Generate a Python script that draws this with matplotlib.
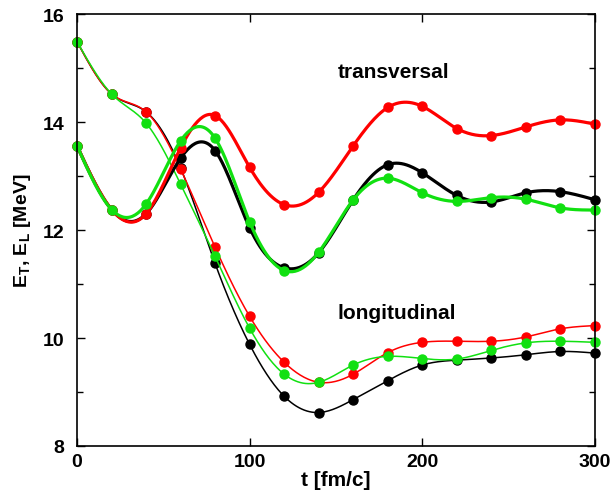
import matplotlib
matplotlib.use("Agg")
import matplotlib.pyplot as plt
import numpy as np
from matplotlib.ticker import MultipleLocator

plt.rcParams['font.family'] = ['Liberation Sans', 'DejaVu Sans']
plt.rcParams['font.weight'] = 'bold'
plt.rcParams['mathtext.fontset'] = 'custom'
plt.rcParams['mathtext.rm'] = 'Liberation Sans:bold'
plt.rcParams['mathtext.bf'] = 'Liberation Sans:bold'

# Data (time in fm/c, energies in MeV)
t = [0, 20, 40, 60, 80, 100, 120, 140, 160, 180, 200, 220, 240, 260, 280, 300]

trans_black = [13.56, 12.38, 12.30, 13.33, 13.47, 12.04, 11.30, 11.58, 12.56, 13.21, 13.06, 12.64, 12.52, 12.69, 12.71, 12.56]
trans_red = [13.56, 12.38, 12.30, 13.52, 14.12, 13.16, 12.47, 12.70, 13.56, 14.27, 14.29, 13.88, 13.75, 13.91, 14.04, 13.96]
trans_green = [13.56, 12.38, 12.48, 13.65, 13.70, 12.15, 11.25, 11.59, 12.56, 12.96, 12.69, 12.53, 12.60, 12.57, 12.41, 12.37]

long_black = [15.49, 14.52, 14.19, 13.15, 11.38, 9.88, 8.92, 8.62, 8.86, 9.21, 9.50, 9.59, 9.63, 9.69, 9.75, 9.72]
long_red = [15.49, 14.52, 14.19, 13.13, 11.68, 10.40, 9.55, 9.18, 9.33, 9.73, 9.92, 9.94, 9.94, 10.02, 10.17, 10.23]
long_green = [15.49, 14.52, 13.98, 12.85, 11.51, 10.18, 9.33, 9.18, 9.50, 9.66, 9.62, 9.61, 9.77, 9.91, 9.94, 9.92]


def cspline(x, y, n=400):
    # natural cubic spline through the data points (for drawing the line)
    x = np.asarray(x, float)
    y = np.asarray(y, float)
    m = len(x)
    h = np.diff(x)
    A = np.zeros((m, m))
    b = np.zeros(m)
    A[0, 0] = A[-1, -1] = 1
    for i in range(1, m - 1):
        A[i, i - 1] = h[i - 1]
        A[i, i] = 2 * (h[i - 1] + h[i])
        A[i, i + 1] = h[i]
        b[i] = 6 * ((y[i + 1] - y[i]) / h[i] - (y[i] - y[i - 1]) / h[i - 1])
    M = np.linalg.solve(A, b)
    xs = np.linspace(x[0], x[-1], n)
    k = np.clip(np.searchsorted(x, xs) - 1, 0, m - 2)
    dx1 = xs - x[k]
    dx2 = x[k + 1] - xs
    hk = h[k]
    ys = (M[k] * dx2**3 / (6 * hk) + M[k + 1] * dx1**3 / (6 * hk)
          + (y[k] / hk - M[k] * hk / 6) * dx2 + (y[k + 1] / hk - M[k + 1] * hk / 6) * dx1)
    return xs, ys


fig = plt.figure(figsize=(6.14, 5.02), dpi=100)
ax = fig.add_axes([0.1254, 0.1096, 0.8436, 0.8604])

green = '#11e011'
series = [
    (long_black, 'black', 1.1),
    (long_red, 'red', 1.1),
    (long_green, green, 1.1),
    (trans_black, 'black', 2.3),
    (trans_red, 'red', 2.3),
    (trans_green, green, 2.3),
]
for vals, col, lw in series:
    xs, ys = cspline(t, vals)
    ax.plot(xs, ys, color=col, linewidth=lw)
    ax.plot(t, vals, 'o', color=col, markersize=6.5, clip_on=False)

ax.text(151, 14.94, 'transversal', fontsize=15, fontweight='bold', va='center')
ax.text(151, 10.48, 'longitudinal', fontsize=15, fontweight='bold', va='center')

ax.set_xlim(0, 300)
ax.set_ylim(8, 16)
ax.xaxis.set_major_locator(MultipleLocator(100))
ax.yaxis.set_major_locator(MultipleLocator(2))
ax.yaxis.set_minor_locator(MultipleLocator(1))
ax.tick_params(which='both', direction='in', top=True, right=True, labelsize=14, width=1)
ax.tick_params(which='major', length=6)
ax.tick_params(which='minor', length=4)
ax.tick_params(axis='x', pad=5)
ax.tick_params(axis='y', pad=9)
for s in ax.spines.values():
    s.set_linewidth(1.2)

ax.set_xlabel('t [fm/c]', fontsize=15, fontweight='bold', labelpad=0)
ax.set_ylabel(r'E$_{\rm T}$, E$_{\rm L}$ [MeV]', fontsize=14, fontweight='bold', labelpad=7)

fig.savefig('out.png', dpi=100)
